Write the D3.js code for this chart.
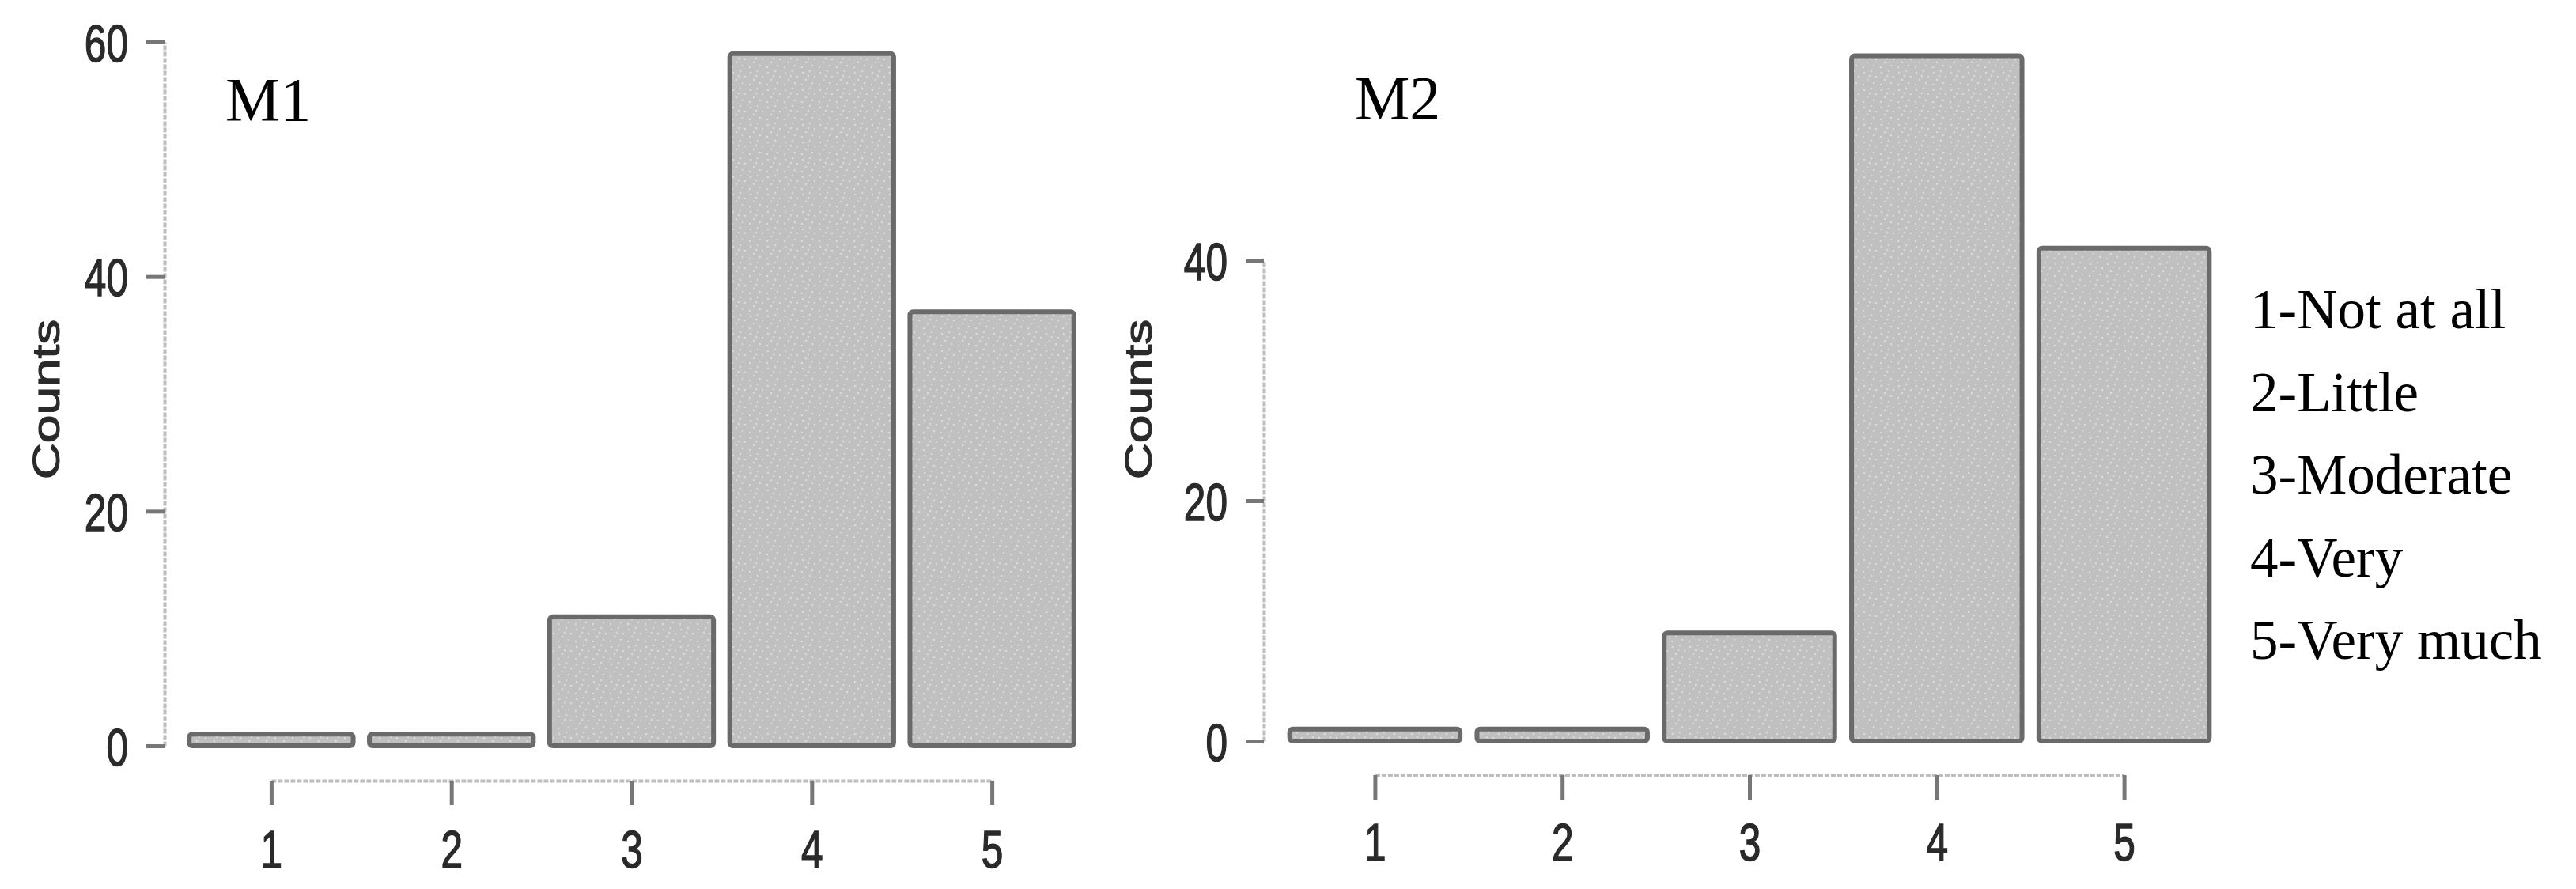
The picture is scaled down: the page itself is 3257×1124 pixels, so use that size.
<!DOCTYPE html>
<html>
<head>
<meta charset="utf-8">
<script src="https://cdn.jsdelivr.net/npm/d3@7"></script>
<style>
  html, body { margin: 0; padding: 0; background: white; }
</style>
</head>
<body>
<div id="container"></div>
<script>
// data
const categories = ["1", "2", "3", "4", "5"]
const m1Counts = [1, 1, 11, 59, 37]
const m2Counts = [1, 1, 9, 57, 41]
const m1Ticks = [0, 20, 40, 60]
const m2Ticks = [0, 20, 40]
const legendLabels = ["1-Not at all", "2-Little", "3-Moderate", "4-Very", "5-Very much"]

const w = 3257
const h = 1124

const svg = d3.select("#container")
    .append("svg")
    .attr("width", w)
    .attr("height", h)
    .style("background-color", "white")

// speckled grey fill like the original bars
const defs = svg.append("defs")
const pat = defs.append("pattern")
    .attr("id", "speckle")
    .attr("width", 22)
    .attr("height", 22)
    .attr("patternUnits", "userSpaceOnUse")
pat.append("rect").attr("width", 22).attr("height", 22).attr("fill", "#c0c0c0")
const dots = [[3, 4], [12, 2], [18, 9], [7, 13], [15, 17], [2, 19], [10, 8]]
pat.selectAll("circle")
    .data(dots)
    .enter()
    .append("circle")
    .attr("cx", (d) => d[0])
    .attr("cy", (d) => d[1])
    .attr("r", 1.3)
    .attr("fill", "#dadada")

const sansFont = "'Liberation Sans', Arial, sans-serif"
const serifFont = "'Liberation Serif', 'Times New Roman', serif"
const inkColor = "#2a2a2a"

function drawPanel(p) {
    const xScale = d3.scaleBand()
        .domain(categories)
        .range(p.xRange)
        .paddingInner(0.09)
        .paddingOuter(0.045)
    const bw = xScale.bandwidth()
    const xPoint = d3.scalePoint()
        .domain(categories)
        .range([xScale(categories[0]) + bw / 2, xScale(categories[categories.length - 1]) + bw / 2])

    const yScale = d3.scaleLinear()
        .domain([0, d3.max(p.ticks)])
        .range(p.yRange)

    // bars
    svg.append("g")
        .selectAll("rect")
        .data(p.counts)
        .enter()
        .append("rect")
        .attr("x", (d, i) => xScale(categories[i]))
        .attr("y", (d) => yScale(d))
        .attr("width", bw)
        .attr("height", (d) => yScale(0) - yScale(d))
        .attr("rx", 4)
        .attr("fill", "url(#speckle)")
        .attr("stroke", "#6a6a6a")
        .attr("stroke-width", 6)

    // y axis
    const yAxis = d3.axisLeft(yScale)
        .tickValues(p.ticks)
        .tickSize(23)
        .tickSizeOuter(0)
        .tickFormat(d3.format("d"))
    const yg = svg.append("g")
        .attr("transform", `translate(${p.yAxisX}, 0)`)
        .call(yAxis)
    yg.select(".domain")
        .attr("stroke", "#bdbdbd")
        .attr("stroke-width", 4)
        .attr("stroke-dasharray", "6 2")
    yg.selectAll(".tick line")
        .attr("stroke", "#777")
        .attr("stroke-width", 5)
    yg.selectAll(".tick text")
        .attr("x", 0)
        .attr("dy", "0.36em")
        .attr("transform", "translate(-46, 0) scale(0.74, 1)")
        .attr("text-anchor", "end")
        .style("font-family", sansFont)
        .style("font-size", "67px")
        .attr("fill", inkColor)
        .attr("stroke", inkColor)
        .attr("stroke-width", 1.5)

    // x axis
    const xAxis = d3.axisBottom(xPoint)
        .tickSize(p.xTick)
        .tickSizeOuter(0)
    const xg = svg.append("g")
        .attr("transform", `translate(0, ${p.xAxisY})`)
        .call(xAxis)
    xg.select(".domain")
        .attr("stroke", "#bdbdbd")
        .attr("stroke-width", 4)
        .attr("stroke-dasharray", "6 2")
    xg.selectAll(".tick line")
        .attr("stroke", "#777")
        .attr("stroke-width", 5)
    xg.selectAll(".tick text")
        .attr("y", 0)
        .attr("dy", "0.71em")
        .attr("transform", `translate(0, ${p.xLabelDy}) scale(0.74, 1)`)
        .style("font-family", sansFont)
        .style("font-size", "67px")
        .attr("fill", inkColor)
        .attr("stroke", inkColor)
        .attr("stroke-width", 1.5)

    // y title
    svg.append("text")
        .attr("transform", `translate(${p.titleX}, 505) scale(0.75, 1) rotate(-90)`)
        .attr("text-anchor", "middle")
        .attr("dominant-baseline", "central")
        .style("font-family", sansFont)
        .style("font-size", "64px")
        .attr("fill", inkColor)
        .attr("stroke", inkColor)
        .attr("stroke-width", 1.5)
        .text("Counts")

    // panel tag
    svg.append("text")
        .attr("x", p.tagX)
        .attr("y", p.tagY)
        .style("font-family", serifFont)
        .style("font-size", "78px")
        .attr("fill", "black")
        .text(p.tag)
}

drawPanel({
    counts: m1Counts, ticks: m1Ticks, tag: "M1",
    xRange: [229, 1368], yRange: [943, 53],
    yAxisX: 208, xAxisY: 987, xTick: 31, xLabelDy: 62,
    titleX: 58, tagX: 285, tagY: 152,
})
drawPanel({
    counts: m2Counts, ticks: m2Ticks, tag: "M2",
    xRange: [1620, 2804], yRange: [937, 329],
    yAxisX: 1598, xAxisY: 980, xTick: 32, xLabelDy: 60,
    titleX: 1439, tagX: 1713, tagY: 150,
})

// legend on the right
svg.append("g")
    .selectAll("text")
    .data(legendLabels)
    .enter()
    .append("text")
    .attr("x", 2845)
    .attr("y", (d, i) => 415 + i * 104.5)
    .style("font-family", serifFont)
    .style("font-size", "71px")
    .attr("fill", "black")
    .text((d) => d)
</script>
</body>
</html>
